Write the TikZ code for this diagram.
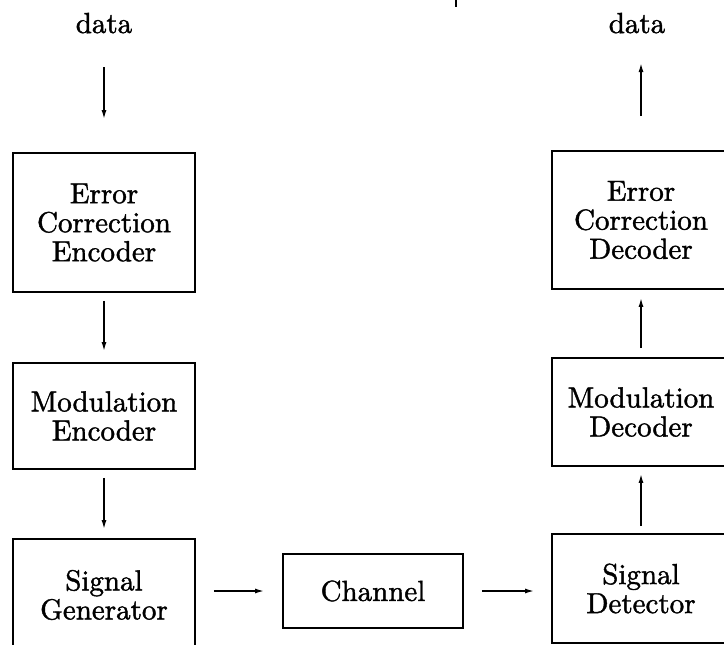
\documentclass[tikz,border=0pt]{standalone}
\usetikzlibrary{arrows.meta}
\font\lmbig="[lmroman10-regular.otf]:embolden=1.4" at 29pt
\begin{document}
\begin{tikzpicture}[x=1pt,y=-1pt,
  txt/.style={font={\fontsize{29}{29}\selectfont\lmbig}},
  box/.style={draw, line width=1.8pt, inner sep=0pt, align=center, txt},
  lbl/.style={inner sep=0pt, anchor=base, txt},
  arr/.style={line width=1.5pt, -{Latex[length=9pt,width=5pt]}}]
\useasboundingbox (0,0) rectangle (724,645);
\clip (0,0) rectangle (724,645);
% labels
\node[lbl] (dinL) at (104,33) {data};
\node[lbl] (doutR) at (637,33) {data};
% left column
\node[box, minimum width=182pt, minimum height=139pt] (ece) at (104,222.5) {Error\\Correction\\Encoder};
\node[box, minimum width=182pt, minimum height=106pt] (me) at (104,416) {Modulation\\Encoder};
\node[box, minimum width=182pt, minimum height=112pt] (sg) at (104,595) {Signal\\Generator};
% channel
\node[box, minimum width=180pt, minimum height=74pt] (ch) at (373,591) {Channel};
% right column
\node[box, minimum width=178pt, minimum height=109pt] (sd) at (641,588.5) {Signal\\Detector};
\node[box, minimum width=178pt, minimum height=108pt] (md) at (641,412) {Modulation\\Decoder};
\node[box, minimum width=178pt, minimum height=138pt] (ecd) at (641,220) {Error\\Correction\\Decoder};
% connectors
\draw[arr, shorten <=34pt, shorten >=33pt] (dinL.base) -- (ece.north);
\draw[arr, shorten <=8pt, shorten >=11pt] (ece.south) -- (me.north);
\draw[arr, shorten <=8pt, shorten >=9pt] (me.south) -- (sg.north);
\draw[arr, shorten <=18pt, shorten >=18pt] (sg.east |- ch.west) -- (ch.west);
\draw[arr, shorten <=18pt, shorten >=17pt] (ch.east) -- (sd.west |- ch.east);
\draw[arr, shorten <=7pt, shorten >=7pt] (sd.north) -- (md.south);
\draw[arr, shorten <=9pt, shorten >=8pt] (md.north) -- (ecd.south);
\draw[arr, shorten <=34pt, shorten >=30pt] (ecd.north) -- (ecd.north |- doutR.base);
% small stray mark at top
\draw[line width=1.8pt] (456,0) -- (456,7);
\end{tikzpicture}
\end{document}
